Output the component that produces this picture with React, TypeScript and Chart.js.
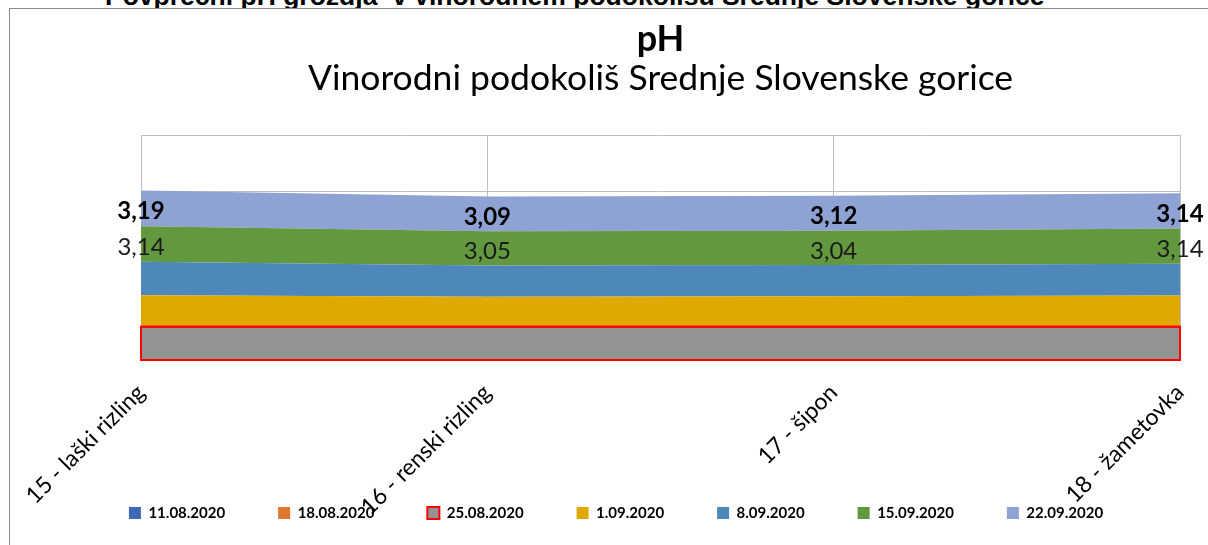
import React, { useEffect, useRef } from "react";
import { Chart, registerables } from "chart.js";

Chart.register(...registerables);

const categories = ["15 - laški rizling", "16 - renski rizling", "17 - šipon", "18 - žametovka"];
const seriesNames = ["11.08.2020", "18.08.2020", "25.08.2020", "1.09.2020", "8.09.2020", "15.09.2020", "22.09.2020"];
const s1108: (number | null)[] = [null, null, null, null];
const s1808: (number | null)[] = [null, null, null, null];
const s2508 = [2.95, 2.95, 2.95, 2.95];
const s0109 = [2.81, 2.67, 2.72, 2.78];
const s0809 = [2.98, 2.78, 2.77, 2.82];
const s1509 = [3.14, 3.05, 3.04, 3.14];
const s2209 = [3.19, 3.09, 3.12, 3.14];
const yMin = 0;
const yMax = 20;
const yStep = 5;

const seriesData = [s1108, s1808, s2508, s0109, s0809, s1509, s2209];
const colors = ["#4068B8", "#E0772F", "#939393", "#E0A900", "#4E87BA", "#62993E", "#8EA2D3"];
const labelledSeries = [5, 6];
const graySeries = 2;

const FONT = "Lato, 'Open Sans', sans-serif";

const fmt = (v: number) => v.toFixed(2).replace(".", ",");

const unclipAxis = {
  id: "unclipAxis",
  afterLayout(chart: any) {
    const xs = chart.scales.x;
    if (xs) xs.bottom = chart.height;
  },
};

const bandLabels = {
  id: "bandLabels",
  afterDatasetsDraw(chart: any) {
    const ctx = chart.ctx;
    const ys = chart.scales.y;
    const gm = chart.getDatasetMeta(graySeries);
    const pts = gm.data;
    if (pts.length) {
      const base = ys.getPixelForValue(0);
      ctx.save();
      ctx.beginPath();
      ctx.moveTo(pts[0].x, pts[0].y);
      for (let i = 1; i < pts.length; i++) ctx.lineTo(pts[i].x, pts[i].y);
      ctx.lineTo(pts[pts.length - 1].x, base);
      ctx.lineTo(pts[0].x, base);
      ctx.closePath();
      ctx.strokeStyle = "#FF0000";
      ctx.lineWidth = 2;
      ctx.stroke();
      ctx.restore();
    }
    labelledSeries.forEach((di) => {
      const meta = chart.getDatasetMeta(di);
      const ds = chart.data.datasets[di];
      meta.data.forEach((pt: any, i: number) => {
        const v = ds.data[i];
        if (v == null) return;
        let below = 0;
        for (let k = 0; k < di; k++) {
          const val = chart.data.datasets[k].data[i];
          if (val != null) below += val;
        }
        const yTop = ys.getPixelForValue(below + v);
        const yBot = ys.getPixelForValue(below);
        const cy = (yTop + yBot) / 2 + 3;
        ctx.save();
        ctx.font = (di === 6 ? "bold " : "") + "24px " + FONT;
        ctx.fillStyle = di === 6 ? "#000000" : "#1a1a1a";
        ctx.textAlign = "center";
        ctx.textBaseline = "middle";
        ctx.fillText(fmt(v), pt.x, cy);
        ctx.restore();
      });
    });
  },
};

export default function App() {
  const ref = useRef<HTMLCanvasElement | null>(null);

  useEffect(() => {
    if (!ref.current) return;
    const datasets = seriesNames.map((name, i) => ({
      label: name,
      data: seriesData[i],
      backgroundColor: colors[i],
      borderColor: i === graySeries ? "#FF0000" : "rgba(0,0,0,0)",
      borderWidth: i === graySeries ? 2 : 0,
      fill: i < graySeries ? false : i === graySeries ? "origin" : "-1",
      pointRadius: 0,
      pointHoverRadius: 0,
      tension: 0,
    }));
    const chart = new Chart(ref.current, {
      type: "line",
      data: { labels: categories, datasets: datasets as any },
      options: {
        animation: false,
        responsive: false,
        maintainAspectRatio: false,
        events: [],
        layout: { padding: { left: 52, right: 28, top: 0, bottom: 14.5 } },
        scales: {
          x: {
            offset: false,
            grid: { color: "#BFBFBF", drawTicks: false, lineWidth: 1 },
            border: { display: false },
            ticks: {
              autoSkip: false,
              minRotation: 45,
              maxRotation: 45,
              padding: 19,
              color: "#000000",
              font: { family: FONT, size: 23 },
            },
            afterFit: (s: any) => {
              s.height = 92.5;
              s.paddingLeft = 0;
              s.paddingRight = 0;
            },
          },
          y: {
            stacked: true,
            min: yMin,
            max: yMax,
            ticks: { display: false, stepSize: yStep },
            grid: { color: "#BFBFBF", drawTicks: false, lineWidth: 1 },
            border: { display: false },
            afterFit: (s: any) => {
              s.width = 89;
            },
          },
        },
        plugins: {
          tooltip: { enabled: false },
          title: {
            display: true,
            fullSize: false,
            text: "pH",
            color: "#000000",
            font: { family: FONT, size: 36, weight: "bold", lineHeight: 1 },
            padding: { top: 21, bottom: 0 },
          },
          subtitle: {
            display: true,
            fullSize: false,
            text: "Vinorodni podokoliš Srednje Slovenske gorice",
            color: "#000000",
            font: { family: FONT, size: 35.5, weight: "normal", lineHeight: 1 },
            padding: { top: 4, bottom: 38.5 },
          },
          legend: {
            display: true,
            position: "bottom",
            labels: {
              boxWidth: 12,
              boxHeight: 12,
              padding: 53,
              color: "#000000",
              font: { family: FONT, size: 15, weight: "bold" },
            },
          },
        },
      } as any,
      plugins: [bandLabels, unclipAxis],
    });
    return () => chart.destroy();
  }, []);

  return (
    <div style={{ position: "fixed", left: 0, top: 0, width: 1208, height: 545, overflow: "hidden", background: "#fff" }}>
      <div
        style={{
          position: "absolute",
          left: 105,
          top: -17.5,
          fontFamily: "'Liberation Sans', Arial, sans-serif",
          fontWeight: "bold",
          fontSize: 26.5,
          lineHeight: "26px",
          whiteSpace: "pre",
          color: "#000",
        }}
      >
        {"Povprečni pH grozdja  v vinorodnem podokolišu Srednje Slovenske gorice"}
      </div>
      <div
        style={{
          position: "absolute",
          left: 9,
          top: 8,
          width: 1400,
          height: 700,
          borderLeft: "1px solid #8c8c8c",
          borderTop: "1px solid #8c8c8c",
          background: "#fff",
        }}
      />
      <canvas ref={ref} width={1208} height={545} style={{ position: "absolute", left: 0, top: 0, display: "block" }} />
    </div>
  );
}
